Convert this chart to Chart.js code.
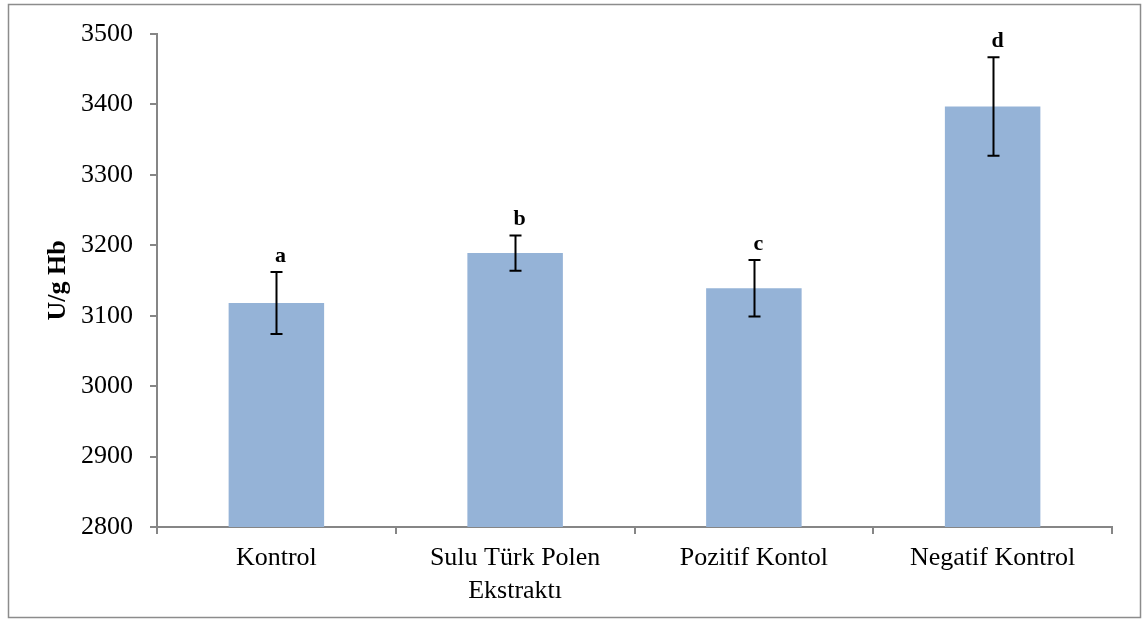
<!DOCTYPE html>
<html>
<head>
<meta charset="utf-8">
<script src="https://cdn.jsdelivr.net/npm/chart.js@4.4.1/dist/chart.umd.min.js"></script>
<style>
  html, body { margin: 0; padding: 0; background: #ffffff; }
  #wrap { width: 1143px; height: 620px; }
</style>
</head>
<body>
<div id="wrap"><canvas id="chart" width="1143" height="620"></canvas></div>
<script>
// Groups on the x axis
const categories = ['Kontrol', ['Sulu Türk Polen', 'Ekstraktı'], 'Pozitif Kontol', 'Negatif Kontrol'];
// Mean enzyme activity (U/g Hb)
const means = [3118, 3189, 3139, 3397];
// Standard deviation for each group
const errors = [44, 25, 40, 70];
// Significance letters shown above each bar
const letters = ['a', 'b', 'c', 'd'];
// Value axis range and step
const yMin = 2800;
const yMax = 3500;
const yStep = 100;

const SERIF = "'Liberation Serif', 'Times New Roman', serif";
const AXIS_GREY = '#868686';

// White page with a thin grey frame around the whole figure
const framePlugin = {
  id: 'frame',
  beforeDraw(chart) {
    const ctx = chart.ctx;
    ctx.save();
    ctx.fillStyle = '#ffffff';
    ctx.fillRect(0, 0, chart.width, chart.height);
    ctx.strokeStyle = '#8c8c8c';
    ctx.lineWidth = 1.5;
    ctx.strokeRect(8.5, 4.5, 1132, 613);
    ctx.restore();
  }
};

// Error bars with caps, plus the letter above each one
const errorBarPlugin = {
  id: 'errorBars',
  afterDatasetsDraw(chart) {
    const ctx = chart.ctx;
    const yScale = chart.scales.y;
    const meta = chart.getDatasetMeta(0);
    ctx.save();
    ctx.strokeStyle = '#000000';
    ctx.lineWidth = 2;
    meta.data.forEach((bar, i) => {
      const x = Math.round(bar.x) + 0.5;
      const yTop = yScale.getPixelForValue(means[i] + errors[i]);
      const yBot = yScale.getPixelForValue(means[i] - errors[i]);
      const cap = 6;
      ctx.beginPath();
      ctx.moveTo(x, yTop);
      ctx.lineTo(x, yBot);
      ctx.moveTo(x - cap, yTop);
      ctx.lineTo(x + cap, yTop);
      ctx.moveTo(x - cap, yBot);
      ctx.lineTo(x + cap, yBot);
      ctx.stroke();

      ctx.fillStyle = '#000000';
      ctx.font = 'bold 22px ' + SERIF;
      ctx.textAlign = 'center';
      ctx.textBaseline = 'alphabetic';
      ctx.fillText(letters[i], x + 4, yTop - 10);
    });
    ctx.restore();
  }
};

new Chart(document.getElementById('chart'), {
  type: 'bar',
  data: {
    labels: categories,
    datasets: [{
      data: means,
      backgroundColor: '#95B3D7',
      borderWidth: 0,
      barPercentage: 0.4,
      categoryPercentage: 1.0
    }]
  },
  options: {
    responsive: false,
    animation: false,
    devicePixelRatio: 1,
    layout: { padding: { left: 8, top: 34, right: 31, bottom: 0 } },
    plugins: {
      legend: { display: false },
      tooltip: { enabled: false }
    },
    scales: {
      x: {
        afterFit(scale) { scale.height = 620 - 527; },
        grid: {
          display: true,
          offset: true,
          drawOnChartArea: false,
          drawTicks: true,
          tickLength: 7,
          color: AXIS_GREY,
          lineWidth: 2
        },
        border: { display: true, color: AXIS_GREY, width: 2 },
        ticks: {
          color: '#000000',
          padding: 8,
          maxRotation: 0,
          autoSkip: false,
          font: { family: SERIF, size: 26, lineHeight: 1.27 }
        }
      },
      y: {
        min: yMin,
        max: yMax,
        afterFit(scale) { scale.width = 157 - 8; },
        grid: {
          display: true,
          drawOnChartArea: false,
          drawTicks: true,
          tickLength: 7,
          color: AXIS_GREY,
          lineWidth: 2
        },
        border: { display: true, color: AXIS_GREY, width: 2 },
        ticks: {
          stepSize: yStep,
          color: '#000000',
          padding: 17,
          font: { family: SERIF, size: 26 },
          callback: (value) => String(value)
        },
        title: {
          display: true,
          text: 'U/g Hb',
          color: '#000000',
          padding: { top: 35, bottom: 0 },
          font: { family: SERIF, size: 26, weight: 'bold', lineHeight: 1.2 }
        }
      }
    }
  },
  plugins: [framePlugin, errorBarPlugin]
});
</script>
</body>
</html>
